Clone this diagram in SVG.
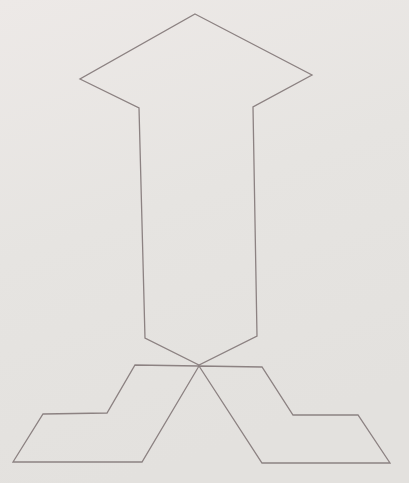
<svg xmlns="http://www.w3.org/2000/svg" width="409" height="483" viewBox="0 0 409 483">
  <defs>
    <linearGradient id="bg" x1="0" y1="0" x2="0.3" y2="1">
      <stop offset="0" stop-color="#ede9e7"/>
      <stop offset="0.5" stop-color="#e6e4e1"/>
      <stop offset="1" stop-color="#e3e1de"/>
    </linearGradient>
  </defs>
  <style>
    .ln { fill: none; stroke: #8c8282; stroke-width: 1.3; stroke-linejoin: miter; }
  </style>
  <rect x="0" y="0" width="409" height="483" fill="url(#bg)"/>
  <g id="arrow">
    <polygon class="ln" points="195,14 312,75 253,107 257,336 199,365 145,338 139,108 80,79"/>
  </g>
  <g id="left-foot">
    <polygon class="ln" points="199,366 135,365 107,413 43,414 13,462 142,462"/>
  </g>
  <g id="right-foot">
    <polygon class="ln" points="199,366 262,367 293,415 358,415 390,463 262,463"/>
  </g>
</svg>
